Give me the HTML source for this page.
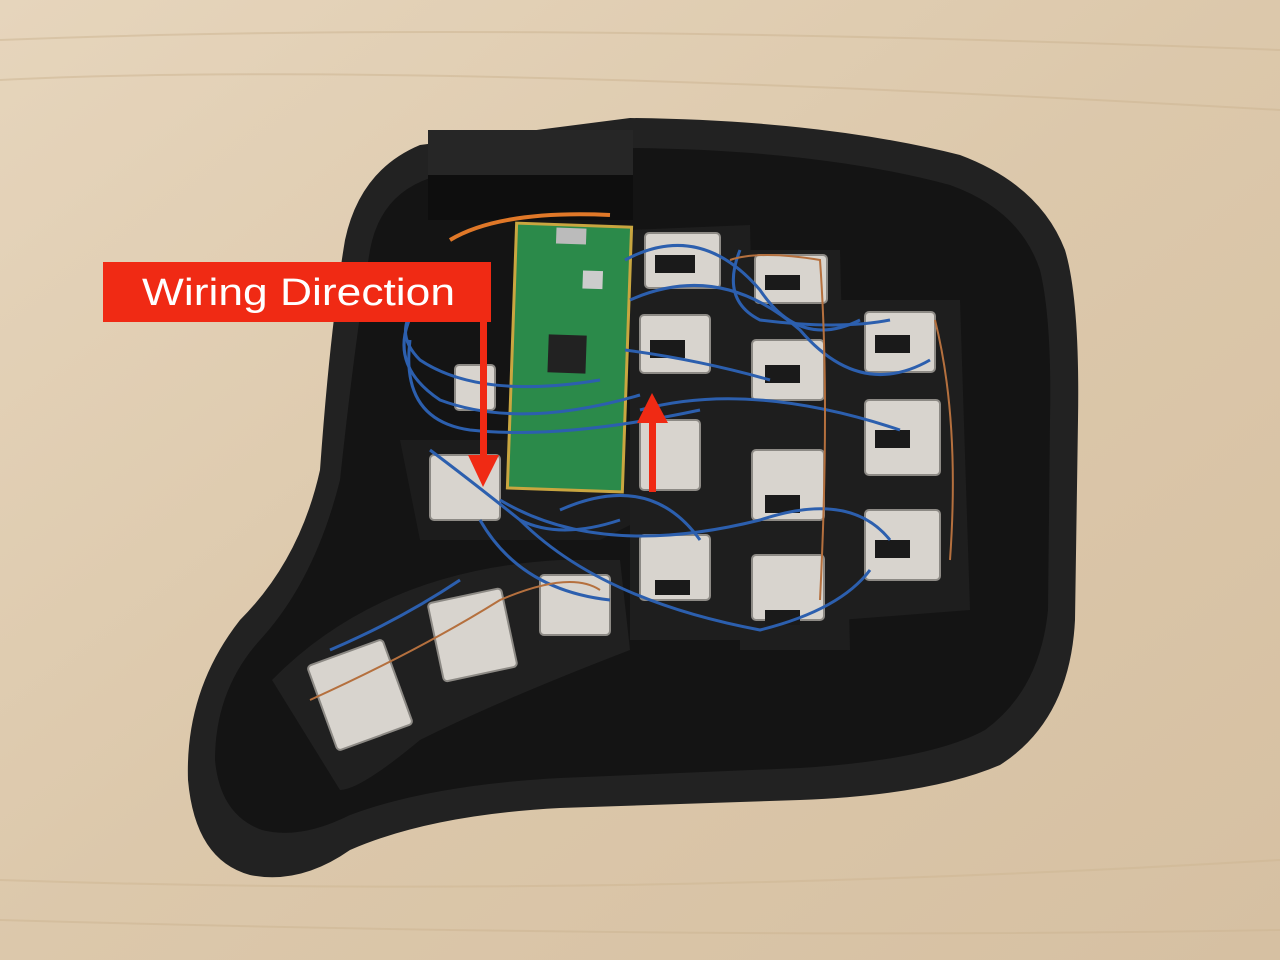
<!DOCTYPE html>
<html><head><meta charset="utf-8"><style>
html,body{margin:0;padding:0;width:1280px;height:960px;overflow:hidden;background:#dcc6a8}
svg{display:block}
</style></head><body>
<svg width="1280" height="960" viewBox="0 0 1280 960" xmlns="http://www.w3.org/2000/svg">
<defs>
<linearGradient id="wood" x1="0" y1="0" x2="1" y2="1">
<stop offset="0" stop-color="#e6d5bc"/><stop offset="0.5" stop-color="#dcc8ab"/><stop offset="1" stop-color="#d6c0a2"/>
</linearGradient>
</defs>
<rect width="1280" height="960" fill="url(#wood)"/>
<g stroke="#cdb592" stroke-width="2" fill="none" opacity="0.5">
<path d="M0 80 Q400 60 1280 110"/><path d="M0 880 Q600 900 1280 860"/><path d="M0 40 Q500 20 1280 50"/><path d="M0 920 Q700 940 1280 930"/>
</g>
<path d="M345 240 Q360 170 420 145 L630 118 Q820 120 960 155 Q1040 185 1065 250 Q1080 300 1078 420 L1075 620 Q1070 720 1000 765 Q930 795 800 800 L560 808 Q430 815 350 850 Q300 885 250 875 Q195 860 188 780 Q185 690 240 620 Q300 560 320 470 Q330 330 345 240 Z" fill="#222"/>
<path d="M370 250 Q380 195 430 178 L630 148 Q820 150 950 185 Q1020 210 1040 270 Q1052 320 1050 420 L1048 610 Q1040 690 985 730 Q930 760 800 768 L560 778 Q430 785 350 815 Q300 840 262 830 Q220 815 215 760 Q215 690 260 640 Q315 580 340 480 Q355 340 370 250 Z" fill="#141414"/>
<rect x="428" y="130" width="205" height="70" fill="#262626"/>
<rect x="428" y="175" width="205" height="45" fill="#0e0e0e"/>
<path d="M400 440 L640 440 L640 520 L600 540 L420 540 Z" fill="#1c1c1c"/>
<path d="M630 230 L750 225 L760 640 L630 640 Z" fill="#1e1e1e"/>
<path d="M740 250 L840 250 L850 650 L740 650 Z" fill="#1e1e1e"/>
<path d="M840 300 L960 300 L970 610 L840 620 Z" fill="#1e1e1e"/>
<path d="M272 680 Q380 570 560 560 L620 560 L630 650 Q500 700 420 740 Q360 790 340 790 Z" fill="#202020"/>
<g fill="#d8d4ce" stroke="#8d8a85" stroke-width="2">
<rect x="645" y="233" width="75" height="55" rx="4"/>
<rect x="755" y="255" width="72" height="48" rx="4"/>
<rect x="640" y="315" width="70" height="58" rx="4"/>
<rect x="752" y="340" width="72" height="60" rx="4"/>
<rect x="865" y="312" width="70" height="60" rx="4"/>
<rect x="640" y="420" width="60" height="70" rx="4"/>
<rect x="752" y="450" width="72" height="70" rx="4"/>
<rect x="865" y="400" width="75" height="75" rx="4"/>
<rect x="640" y="535" width="70" height="65" rx="4"/>
<rect x="752" y="555" width="72" height="65" rx="4"/>
<rect x="865" y="510" width="75" height="70" rx="4"/>
<rect x="430" y="455" width="70" height="65" rx="4"/>
<rect x="455" y="365" width="40" height="45" rx="4"/>
<rect x="540" y="575" width="70" height="60" rx="4"/>
<rect x="435" y="595" width="75" height="80" rx="4" transform="rotate(-12 472 635)"/>
<rect x="320" y="650" width="80" height="90" rx="4" transform="rotate(-20 360 695)"/>
</g>
<g fill="#1a1a1a">
<rect x="655" y="255" width="40" height="18"/><rect x="765" y="275" width="35" height="15"/>
<rect x="650" y="340" width="35" height="18"/><rect x="765" y="365" width="35" height="18"/>
<rect x="875" y="335" width="35" height="18"/><rect x="875" y="430" width="35" height="18"/>
<rect x="765" y="495" width="35" height="18"/><rect x="875" y="540" width="35" height="18"/>
<rect x="655" y="580" width="35" height="15"/><rect x="765" y="610" width="35" height="15"/>
</g>
<g transform="rotate(2 568 357)">
<rect x="512" y="225" width="115" height="265" fill="#2b8a4a" stroke="#c9a640" stroke-width="3"/>
<rect x="548" y="335" width="38" height="38" fill="#222"/>
<rect x="552" y="228" width="30" height="16" fill="#bbb"/>
<rect x="580" y="270" width="20" height="18" fill="#ccc"/>
</g>
<g fill="none" stroke="#2c5fae" stroke-width="3">
<path d="M420 300 Q380 360 440 400 Q520 430 640 395"/>
<path d="M410 340 Q400 420 470 430 Q560 440 700 410"/>
<path d="M450 280 Q380 320 420 360 Q480 400 600 380"/>
<path d="M625 260 Q700 220 760 290 Q800 350 860 320"/>
<path d="M630 300 Q720 260 800 330 Q860 400 930 360"/>
<path d="M640 410 Q750 380 900 430"/>
<path d="M500 500 Q600 560 760 520 Q850 490 890 540"/>
<path d="M520 520 Q600 600 760 630 Q840 610 870 570"/>
<path d="M460 580 Q400 620 330 650"/>
<path d="M480 520 Q520 590 610 600"/>
<path d="M560 510 Q650 470 700 540"/>
<path d="M625 350 Q700 360 770 380"/>
<path d="M430 450 Q470 480 520 520 Q560 540 620 520"/>
<path d="M740 250 Q720 300 760 320 Q840 330 890 320"/>
</g>
<g fill="none" stroke="#b5703e" stroke-width="2">
<path d="M730 260 Q760 250 820 260 Q830 400 820 600"/>
<path d="M935 320 Q960 420 950 560"/>
<path d="M310 700 Q420 650 500 600 Q570 570 600 590"/>
</g>
<path d="M450 240 Q500 210 610 215" fill="none" stroke="#e07828" stroke-width="4"/>
<rect x="103" y="262" width="388" height="60" fill="#f02a14"/>
<text x="142" y="305" font-family="Liberation Sans, sans-serif" font-size="38" fill="#fff" textLength="313" lengthAdjust="spacingAndGlyphs">Wiring Direction</text>
<rect x="480" y="278" width="7" height="180" fill="#f02a14"/>
<polygon points="468,455 499,455 483,487" fill="#f02a14"/>
<rect x="649" y="420" width="7" height="72" fill="#f02a14"/>
<polygon points="637,423 668,423 652,393" fill="#f02a14"/>
</svg>
</body></html>
